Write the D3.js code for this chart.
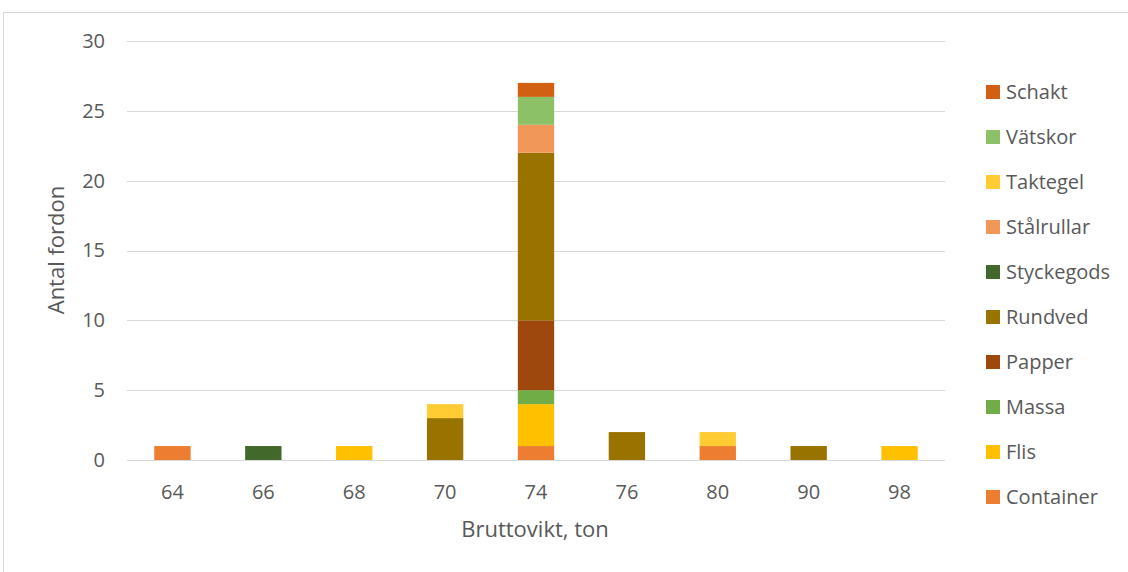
<!DOCTYPE html>
<html>
<head>
<meta charset="utf-8">
<script src="https://cdn.jsdelivr.net/npm/d3@7"></script>
<style>
  html, body { margin: 0; padding: 0; background: #fff; }
  svg { display: block; }
  text { font-family: "Open Sans", "Noto Sans", sans-serif; fill: #595959; }
</style>
</head>
<body>
<svg id="chart" width="1128" height="572"></svg>
<script>
// Weight classes (gross weight, tonnes)
const categories = ["64", "66", "68", "70", "74", "76", "80", "90", "98"];

// Number of vehicles per cargo type and weight class
const container  = [1, 0, 0, 0, 1, 0, 1, 0, 0];
const flis       = [0, 0, 1, 0, 3, 0, 0, 0, 1];
const massa      = [0, 0, 0, 0, 1, 0, 0, 0, 0];
const papper     = [0, 0, 0, 0, 5, 0, 0, 0, 0];
const rundved    = [0, 0, 0, 3, 12, 2, 0, 1, 0];
const styckegods = [0, 1, 0, 0, 0, 0, 0, 0, 0];
const stalrullar = [0, 0, 0, 0, 2, 0, 0, 0, 0];
const taktegel   = [0, 0, 0, 1, 0, 0, 1, 0, 0];
const vatskor    = [0, 0, 0, 0, 2, 0, 0, 0, 0];
const schakt     = [0, 0, 0, 0, 1, 0, 0, 0, 0];

const yTicks = [0, 5, 10, 15, 20, 25, 30];

// Stack order, bottom to top
const series = [
  { name: "Container",  values: container,  color: "#ED7D31" },
  { name: "Flis",       values: flis,       color: "#FFC000" },
  { name: "Massa",      values: massa,      color: "#70AD47" },
  { name: "Papper",     values: papper,     color: "#9E480E" },
  { name: "Rundved",    values: rundved,    color: "#997300" },
  { name: "Styckegods", values: styckegods, color: "#43682B" },
  { name: "Stålrullar", values: stalrullar, color: "#F1975A" },
  { name: "Taktegel",   values: taktegel,   color: "#FFCD33" },
  { name: "Vätskor",    values: vatskor,    color: "#8CC168" },
  { name: "Schakt",     values: schakt,     color: "#D26012" }
];

const rows = categories.map((c, i) => {
  const r = { cat: c };
  series.forEach(s => { r[s.name] = s.values[i]; });
  return r;
});

const stacked = d3.stack().keys(series.map(s => s.name))(rows);

const svg = d3.select("#chart");

// Chart frame
svg.append("rect")
  .attr("x", 3.5).attr("y", 12.5)
  .attr("width", 1140).attr("height", 580)
  .attr("fill", "none").attr("stroke", "#D9D9D9").attr("stroke-width", 1);

const plot = { left: 127, right: 945, top: 41, bottom: 460 };

const x = d3.scaleBand()
  .domain(categories)
  .range([plot.left, plot.right])
  .paddingInner(0.6)
  .paddingOuter(0.3);

const y = d3.scaleLinear()
  .domain([0, 30])
  .range([plot.bottom, plot.top]);

// Horizontal gridlines
svg.append("g")
  .selectAll("line")
  .data(yTicks)
  .join("line")
  .attr("x1", plot.left).attr("x2", plot.right)
  .attr("y1", d => Math.round(y(d)) + 0.5)
  .attr("y2", d => Math.round(y(d)) + 0.5)
  .attr("stroke", "#D9D9D9").attr("stroke-width", 1);

// Y axis labels
const yAxis = svg.append("g")
  .attr("transform", `translate(${plot.left},0)`)
  .call(d3.axisLeft(y).tickValues(yTicks).tickSize(0).tickPadding(22));
yAxis.select(".domain").remove();
yAxis.selectAll("text")
  .style("font-size", "20px")
  .style("font-family", "'Open Sans', sans-serif")
  .attr("fill", "#595959");

// X axis labels
const xAxis = svg.append("g")
  .attr("transform", `translate(0,${plot.bottom})`)
  .call(d3.axisBottom(x).tickSize(0).tickPadding(25));
xAxis.select(".domain").remove();
xAxis.selectAll("text")
  .style("font-size", "20px")
  .style("font-family", "'Open Sans', sans-serif")
  .attr("fill", "#595959");

// Stacked bars
svg.append("g")
  .selectAll("g")
  .data(stacked)
  .join("g")
  .attr("fill", (d, i) => series[i].color)
  .selectAll("rect")
  .data(d => d.filter(p => p[1] - p[0] > 0))
  .join("rect")
  .attr("x", d => x(d.data.cat))
  .attr("width", x.bandwidth())
  .attr("y", d => y(d[1]))
  .attr("height", d => y(d[0]) - y(d[1]));

// Axis titles
svg.append("text")
  .attr("x", 535).attr("y", 537)
  .attr("text-anchor", "middle")
  .style("font-size", "22px")
  .text("Bruttovikt, ton");

svg.append("text")
  .attr("transform", "translate(64,250) rotate(-90)")
  .attr("text-anchor", "middle")
  .style("font-size", "22px")
  .text("Antal fordon");

// Legend, top to bottom in reverse stack order
const legend = svg.append("g")
  .selectAll("g")
  .data(series.slice().reverse())
  .join("g")
  .attr("transform", (d, i) => `translate(986,${92 + i * 45})`);

legend.append("rect")
  .attr("x", 0).attr("y", -7)
  .attr("width", 14).attr("height", 14)
  .attr("fill", d => d.color);

legend.append("text")
  .attr("x", 20).attr("y", 0)
  .attr("dy", "0.35em")
  .style("font-size", "20px")
  .text(d => d.name);
</script>
</body>
</html>
